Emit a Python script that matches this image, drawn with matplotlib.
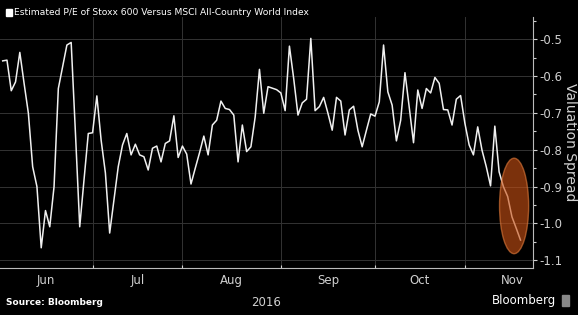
import numpy as np
import pandas as pd
import matplotlib
matplotlib.use("Agg")
import matplotlib.pyplot as plt
from matplotlib.patches import Ellipse, Rectangle

# Stoxx 600 vs MSCI ACWI estimated P/E spread, business days from 2 Jun 2016
spread = [
    -0.559, -0.557, -0.640, -0.616, -0.536, -0.620, -0.701, -0.846, -0.900, -1.066,
    -0.965, -1.009, -0.900, -0.634, -0.575, -0.516, -0.509, -0.755, -1.009, -0.882,
    -0.756, -0.754, -0.654, -0.774, -0.863, -1.026, -0.936, -0.846, -0.787, -0.756,
    -0.814, -0.785, -0.814, -0.819, -0.855, -0.796, -0.790, -0.833, -0.783, -0.776,
    -0.708, -0.821, -0.790, -0.812, -0.893, -0.850, -0.808, -0.763, -0.814, -0.733,
    -0.720, -0.668, -0.688, -0.691, -0.706, -0.833, -0.733, -0.805, -0.792, -0.711,
    -0.582, -0.701, -0.629, -0.633, -0.637, -0.646, -0.694, -0.519, -0.607, -0.706,
    -0.673, -0.663, -0.498, -0.694, -0.683, -0.658, -0.701, -0.747, -0.658, -0.668,
    -0.760, -0.692, -0.682, -0.747, -0.792, -0.747, -0.703, -0.709, -0.670, -0.516,
    -0.643, -0.679, -0.776, -0.720, -0.591, -0.685, -0.781, -0.638, -0.688, -0.634,
    -0.646, -0.604, -0.620, -0.691, -0.692, -0.733, -0.663, -0.653, -0.728, -0.787,
    -0.814, -0.738, -0.801, -0.846, -0.898, -0.736, -0.860, -0.900, -0.927, -0.982,
    -1.013, -1.045,
]
start_date = "2016-06-02"
month_names = ["Jun", "Jul", "Aug", "Sep", "Oct", "Nov"]
y_ticks = [-0.5, -0.6, -0.7, -0.8, -0.9, -1.0, -1.1]

dates = pd.bdate_range(start_date, periods=len(spread))
x = np.arange(len(spread))
y = np.array(spread)

# month boundaries on the business-day axis (Jun 1 sits one day before the data)
all_days = pd.bdate_range("2016-06-01", "2016-12-01")
pos = np.arange(len(all_days)) - 1
starts = [pos[0]] + [pos[i] for i in range(1, len(all_days))
                     if all_days[i].month != all_days[i - 1].month]
boundaries = starts[1:-1]
centers = [(starts[i] + starts[i + 1]) / 2 for i in range(len(month_names))]

fg = "#d0d0d0"
fig = plt.figure(figsize=(5.78, 3.15), dpi=100, facecolor="black")
ax = fig.add_axes([0.0, 0.149, 0.922, 0.797], facecolor="black")

ax.plot(x, y, color="#f0f0f0", lw=1.1, zorder=3)

# highlight of the latest slide
hl = y[-6:]
ell = Ellipse((x[-4:].mean(), (hl.max() + hl.min()) / 2), 6.8, (hl.max() - hl.min()) * 1.4,
              facecolor="#c85014", edgecolor="#e07a3a", alpha=0.62, lw=1.0, zorder=4)
ax.add_patch(ell)

ax.set_xlim(-0.63, 123.9)
ax.set_ylim(-1.121, -0.44)

ax.yaxis.tick_right()
ax.set_yticks(y_ticks)
ax.set_yticklabels(["%.1f" % v for v in y_ticks])
ax.set_yticks(np.arange(-1.1, -0.44, 0.05), minor=True)
ax.tick_params(axis="y", which="both", colors=fg, labelsize=8.5, length=3, width=0.8, pad=2)
ax.tick_params(axis="y", which="minor", length=2)
ax.yaxis.set_label_position("right")
ax.set_ylabel("Valuation Spread", color=fg, fontsize=10, rotation=-90, labelpad=10)

ax.set_xticks(boundaries)
ax.set_xticklabels([])
ax.set_xticks(centers, minor=True)
ax.set_xticklabels(month_names, minor=True)
ax.tick_params(axis="x", which="major", colors=fg, length=2, direction="in")
ax.tick_params(axis="x", which="minor", colors=fg, length=0, labelsize=8.5, pad=4)
ax.text(0.5, -0.11, "2016", transform=ax.transAxes, ha="center", va="top",
        color=fg, fontsize=8.5)

ax.grid(True, which="major", color="#333333", lw=0.7)
for s in ["top", "left"]:
    ax.spines[s].set_visible(False)
ax.spines["right"].set_color("#bbbbbb")
ax.spines["bottom"].set_color("#bbbbbb")

fig.patches.append(Rectangle((0.010, 0.950), 0.011, 0.022, transform=fig.transFigure,
                             color="white", figure=fig))
fig.text(0.024, 0.961, "Estimated P/E of Stoxx 600 Versus MSCI All-Country World Index",
         color="white", fontsize=6.6, va="center", ha="left",
         family=["Liberation Sans Narrow", "DejaVu Sans"])
fig.text(0.010, 0.040, "Source: Bloomberg", color="white", fontsize=6.5,
         fontweight="bold", va="center", ha="left")
fig.text(0.962, 0.045, "Bloomberg", color="white", fontsize=8.5, va="center", ha="right")
fig.patches.append(Rectangle((0.972, 0.030), 0.013, 0.032, transform=fig.transFigure,
                             color="#888888", figure=fig))

fig.savefig("out.png", dpi=100, facecolor="black")
